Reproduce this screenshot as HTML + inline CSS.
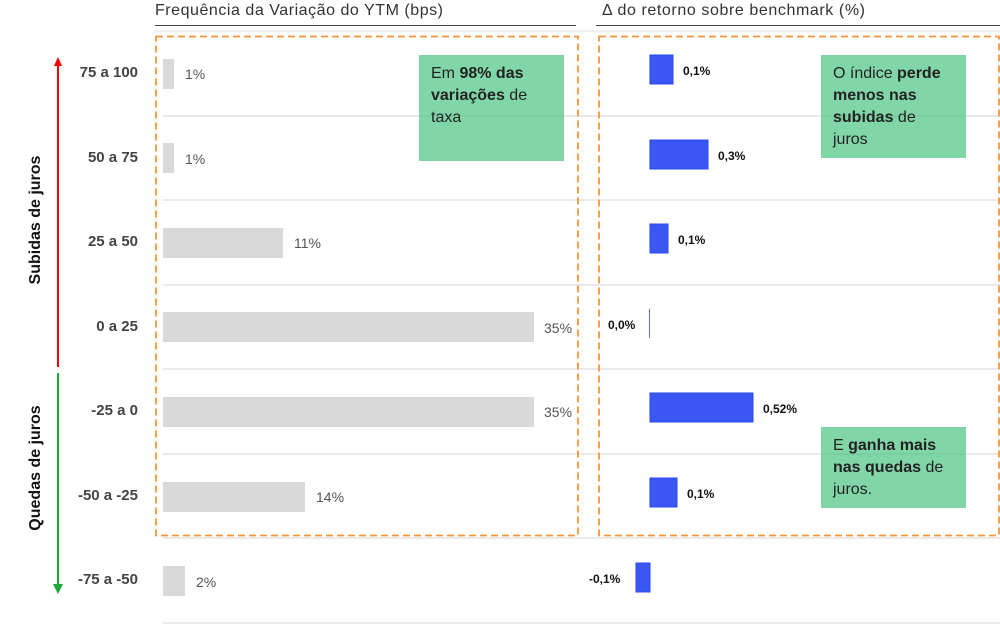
<!DOCTYPE html>
<html><head><meta charset="utf-8"><style>
html,body{margin:0;padding:0;background:#fff;}
svg{display:block;font-family:"Liberation Sans","DejaVu Sans",sans-serif;}
</style></head><body>
<svg width="1000" height="624" viewBox="0 0 1000 624" xmlns="http://www.w3.org/2000/svg">
<text x="155" y="15" font-size="16" fill="#333" textLength="288">Frequência da Variação do YTM (bps)</text>
<text x="602" y="15" font-size="16" fill="#333" textLength="263">Δ do retorno sobre benchmark (%)</text>
<line x1="155" y1="25.5" x2="576" y2="25.5" stroke="#444" stroke-width="1"/>
<line x1="596" y1="25.5" x2="1000" y2="25.5" stroke="#444" stroke-width="1"/>
<line x1="155" y1="31" x2="1000" y2="31" stroke="#e0e0e0" stroke-width="1"/>
<g stroke="#e3e3e3" stroke-width="1.5">
<line x1="163" y1="116" x2="1000" y2="116"/>
<line x1="163" y1="200" x2="1000" y2="200"/>
<line x1="163" y1="285" x2="1000" y2="285"/>
<line x1="163" y1="369" x2="1000" y2="369"/>
<line x1="163" y1="454" x2="1000" y2="454"/>
<line x1="163" y1="538" x2="1000" y2="538"/>
<line x1="163" y1="623" x2="1000" y2="623"/>
</g>
<g fill="#d9d9d9">
<rect x="163" y="59" width="11" height="30"/>
<rect x="163" y="143" width="11" height="30"/>
<rect x="163" y="228" width="120" height="30"/>
<rect x="163" y="312" width="371" height="30"/>
<rect x="163" y="397" width="371" height="30"/>
<rect x="163" y="482" width="142" height="30"/>
<rect x="163" y="566" width="22" height="30"/>
</g>
<g font-size="14" fill="#555">
<text x="185" y="79">1%</text>
<text x="185" y="164">1%</text>
<text x="294" y="248">11%</text>
<text x="544" y="333">35%</text>
<text x="544" y="417">35%</text>
<text x="316" y="502">14%</text>
<text x="196" y="587">2%</text>
</g>
<g font-size="15" font-weight="bold" fill="#444" text-anchor="end">
<text x="138" y="77">75 a 100</text>
<text x="138" y="162">50 a 75</text>
<text x="138" y="246">25 a 50</text>
<text x="138" y="331">0 a 25</text>
<text x="138" y="415">-25 a 0</text>
<text x="138" y="500">-50 a -25</text>
<text x="138" y="584">-75 a -50</text>
</g>
<line x1="58" y1="64" x2="58" y2="367" stroke="#f00" stroke-width="2"/>
<polygon points="54,66 62,66 58,57" fill="#f00"/>
<line x1="58" y1="373" x2="58" y2="586" stroke="#1aaa3a" stroke-width="2"/>
<polygon points="53,584 63,584 58,594" fill="#1aaa3a"/>
<text transform="translate(40,220) rotate(-90)" font-size="16" font-weight="bold" fill="#111" text-anchor="middle">Subidas de juros</text>
<text transform="translate(40,468) rotate(-90)" font-size="16" font-weight="bold" fill="#111" text-anchor="middle">Quedas de juros</text>
<g fill="#3a57f5" stroke="#2a48f0" stroke-width="1">
<rect x="650" y="55" width="23" height="29"/>
<rect x="650" y="140" width="58" height="29"/>
<rect x="650" y="224" width="18" height="29"/>
<rect x="650" y="393" width="103" height="29"/>
<rect x="650" y="478" width="27" height="29"/>
<rect x="636" y="563" width="14" height="29"/>
</g>
<line x1="649.5" y1="309" x2="649.5" y2="338" stroke="#5a70f0" stroke-width="1"/>
<g font-size="12" font-weight="bold" fill="#111">
<text x="683" y="75">0,1%</text>
<text x="718" y="160">0,3%</text>
<text x="678" y="244">0,1%</text>
<text x="608" y="329">0,0%</text>
<text x="763" y="413">0,52%</text>
<text x="687" y="498">0,1%</text>
<text x="589" y="583">-0,1%</text>
</g>
<rect x="156" y="36.5" width="422" height="499" fill="none" stroke="#f7953a" stroke-width="1.8" stroke-dasharray="7,4"/>
<rect x="599" y="36.5" width="400" height="499" fill="none" stroke="#f7953a" stroke-width="1.8" stroke-dasharray="7,4"/>
<rect x="419" y="55" width="145" height="106" fill="#3dc07a" fill-opacity="0.65"/>
<g font-size="16" fill="#222">
<text x="431" y="78">Em <tspan font-weight="bold">98% das</tspan></text>
<text x="431" y="100"><tspan font-weight="bold">variações</tspan> de</text>
<text x="431" y="122">taxa</text>
</g>
<rect x="821" y="55" width="145" height="103" fill="#3dc07a" fill-opacity="0.65"/>
<g font-size="16" fill="#222">
<text x="833" y="78">O índice <tspan font-weight="bold">perde</tspan></text>
<text x="833" y="100" font-weight="bold">menos nas</text>
<text x="833" y="122"><tspan font-weight="bold">subidas</tspan> de</text>
<text x="833" y="144">juros</text>
</g>
<rect x="821" y="427" width="145" height="81" fill="#3dc07a" fill-opacity="0.65"/>
<g font-size="16" fill="#222">
<text x="833" y="450">E <tspan font-weight="bold">ganha mais</tspan></text>
<text x="833" y="472"><tspan font-weight="bold">nas quedas</tspan> de</text>
<text x="833" y="494">juros.</text>
</g>
</svg>
</body></html>
